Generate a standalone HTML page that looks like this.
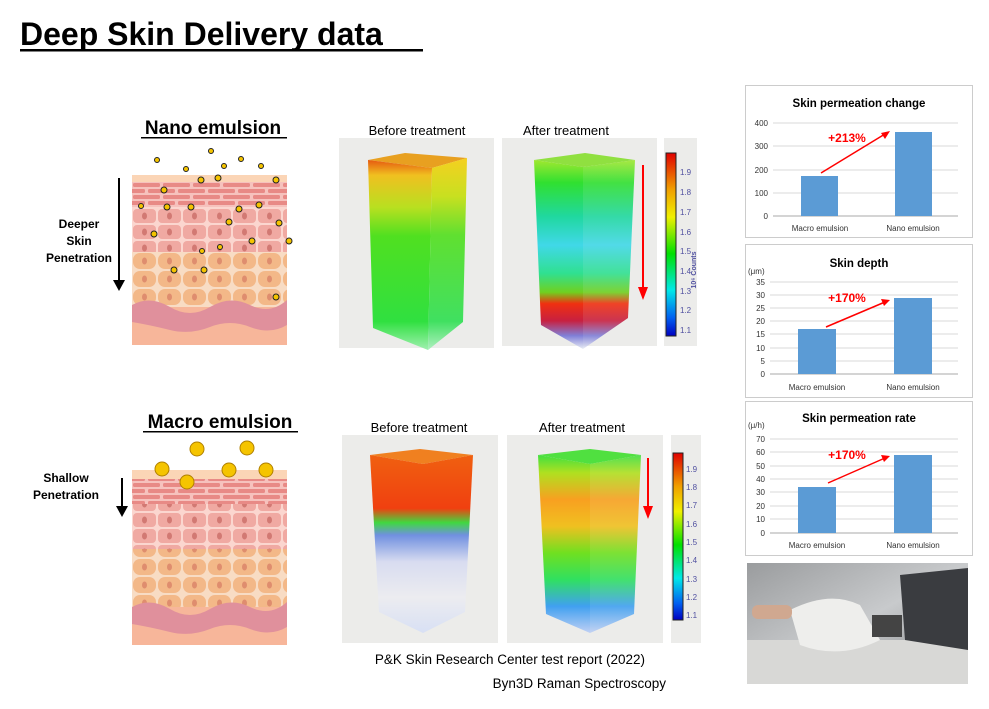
<!DOCTYPE html>
<html><head><meta charset="utf-8"><style>
html,body{margin:0;padding:0;background:#fff}
svg{display:block}
text{font-family:"Liberation Sans",sans-serif}
</style></head><body>
<svg width="989" height="709" viewBox="0 0 989 709" xmlns="http://www.w3.org/2000/svg">
<defs>
 <pattern id="brick" x="132" y="182" width="30" height="12" patternUnits="userSpaceOnUse">
  <rect width="30" height="12" fill="#f6c2bd"/>
  <rect x="1" y="1" width="27" height="4" rx="1.5" fill="#e88a86"/>
  <rect x="-14" y="7" width="27" height="4" rx="1.5" fill="#e88a86"/>
  <rect x="16" y="7" width="27" height="4" rx="1.5" fill="#e88a86"/>
 </pattern>
 <pattern id="pink" x="132" y="0" width="25" height="16" patternUnits="userSpaceOnUse">
  <rect width="25" height="16" fill="#fbd6cf"/>
  <rect x="1" y="1" width="23" height="14" rx="4" fill="#f0a9a2"/>
  <ellipse cx="12.5" cy="8" rx="2.5" ry="3.5" fill="#d27973"/>
 </pattern>
 <pattern id="orange" x="132" y="0" width="25" height="18" patternUnits="userSpaceOnUse">
  <rect width="25" height="18" fill="#f8dcc4"/>
  <rect x="1" y="1" width="23" height="16" rx="7" fill="#f3b888"/>
  <ellipse cx="12.5" cy="9" rx="2.5" ry="3.5" fill="#df8d6e"/>
 </pattern>
 <linearGradient id="nb" x1="0" y1="0" x2="0" y2="1">
  <stop offset="0" stop-color="#e65a10"/><stop offset="0.08" stop-color="#f0c020"/><stop offset="0.25" stop-color="#b8e020"/><stop offset="0.4" stop-color="#50e020"/><stop offset="0.85" stop-color="#30e040"/><stop offset="1" stop-color="#a0f0b0"/>
 </linearGradient>
 <linearGradient id="nbr" x1="0" y1="0" x2="0" y2="1">
  <stop offset="0" stop-color="#f5d020"/><stop offset="0.2" stop-color="#c8e020"/><stop offset="0.4" stop-color="#60e030"/><stop offset="0.85" stop-color="#40e060"/><stop offset="1" stop-color="#b0f0c0"/>
 </linearGradient>
 <linearGradient id="na" x1="0" y1="0" x2="0" y2="1">
  <stop offset="0" stop-color="#a0e830"/><stop offset="0.12" stop-color="#30e030"/><stop offset="0.3" stop-color="#20d8a0"/><stop offset="0.45" stop-color="#40d8e8"/><stop offset="0.6" stop-color="#30e090"/><stop offset="0.7" stop-color="#70d020"/><stop offset="0.76" stop-color="#f03010"/><stop offset="0.85" stop-color="#c82040"/><stop offset="0.93" stop-color="#8080d8"/><stop offset="1" stop-color="#e8ecf4"/>
 </linearGradient>
 <linearGradient id="mb" x1="0" y1="0" x2="0" y2="1">
  <stop offset="0" stop-color="#f06010"/><stop offset="0.3" stop-color="#f04010"/><stop offset="0.38" stop-color="#40d840"/><stop offset="0.45" stop-color="#7090e0"/><stop offset="0.6" stop-color="#d8dcf0"/><stop offset="0.8" stop-color="#ececf0"/><stop offset="1" stop-color="#d8e0f4"/>
 </linearGradient>
 <linearGradient id="ma" x1="0" y1="0" x2="0" y2="1">
  <stop offset="0" stop-color="#40e040"/><stop offset="0.1" stop-color="#b0e020"/><stop offset="0.25" stop-color="#f8a020"/><stop offset="0.4" stop-color="#f0c020"/><stop offset="0.55" stop-color="#70e020"/><stop offset="0.7" stop-color="#30e060"/><stop offset="0.85" stop-color="#40a0f0"/><stop offset="1" stop-color="#c0d0f4"/>
 </linearGradient>
 <linearGradient id="cb" x1="0" y1="0" x2="0" y2="1">
  <stop offset="0" stop-color="#e00000"/><stop offset="0.2" stop-color="#f0a000"/><stop offset="0.35" stop-color="#f0f000"/><stop offset="0.55" stop-color="#00e000"/><stop offset="0.75" stop-color="#00e8e8"/><stop offset="0.9" stop-color="#0060f0"/><stop offset="1" stop-color="#0000c0"/>
 </linearGradient>
 <linearGradient id="photo" x1="0" y1="0" x2="1" y2="1">
  <stop offset="0" stop-color="#9a9c9e"/><stop offset="0.5" stop-color="#c8cacc"/><stop offset="1" stop-color="#7c7e80"/>
 </linearGradient>
</defs>

<text x="20" y="45" font-size="32" font-weight="bold" fill="#000">Deep Skin Delivery data</text>
<rect x="20" y="49" width="403" height="2.5" fill="#000"/>

<!-- Nano -->
<text x="213" y="134" font-size="19" font-weight="bold" text-anchor="middle">Nano emulsion</text>
<rect x="141" y="137" width="146" height="1.5" fill="#000"/>
<g>
 <rect x="132" y="175" width="155" height="170" fill="#f7b69a"/>
 <rect x="132" y="175" width="155" height="7" fill="#fbd5b6"/>
 <rect x="132" y="182" width="155" height="25" fill="url(#brick)"/>
 <rect x="132" y="207" width="155" height="45" fill="url(#pink)"/>
 <rect x="132" y="252" width="155" height="55" fill="url(#orange)"/>
 <path d="M132 305 Q150 295 170 307 T210 307 T250 305 T287 300 L287 325 Q270 335 250 327 T210 327 T170 330 T132 322Z" fill="#e0909c"/>
</g>
<g fill="#f5c400" stroke="#222" stroke-width="1">
 <circle cx="157" cy="160" r="2.5"/><circle cx="211" cy="151" r="2.5"/><circle cx="186" cy="169" r="2.5"/><circle cx="224" cy="166" r="2.5"/><circle cx="241" cy="159" r="2.5"/><circle cx="261" cy="166" r="2.5"/>
 <circle cx="201" cy="180" r="3"/><circle cx="218" cy="178" r="3"/><circle cx="276" cy="180" r="3"/><circle cx="164" cy="190" r="3"/>
 <circle cx="141" cy="206" r="2.5"/><circle cx="167" cy="207" r="3"/><circle cx="191" cy="207" r="3"/><circle cx="239" cy="209" r="3"/><circle cx="259" cy="205" r="3"/>
 <circle cx="229" cy="222" r="3"/><circle cx="279" cy="223" r="3"/><circle cx="154" cy="234" r="3"/><circle cx="252" cy="241" r="3"/><circle cx="289" cy="241" r="3"/>
 <circle cx="202" cy="251" r="2.5"/><circle cx="220" cy="247" r="2.5"/><circle cx="174" cy="270" r="3"/><circle cx="204" cy="270" r="3"/><circle cx="276" cy="297" r="3"/>
</g>
<line x1="119" y1="178" x2="119" y2="282" stroke="#000" stroke-width="2"/>
<polygon points="113,280 125,280 119,291" fill="#000"/>
<g font-size="12" font-weight="bold" text-anchor="middle">
 <text x="79" y="228">Deeper</text><text x="79" y="245">Skin</text><text x="79" y="262">Penetration</text>
</g>

<text x="417" y="135" font-size="13" text-anchor="middle">Before treatment</text>
<text x="566" y="135" font-size="13" text-anchor="middle">After treatment</text>
<rect x="339" y="138" width="155" height="210" fill="#ececea"/>
<rect x="502" y="138" width="155" height="208" fill="#ececea"/>
<rect x="664" y="138" width="33" height="208" fill="#ececea"/>
<!-- nano before cube -->
<polygon points="368,160 405,153 467,158 432,168" fill="#e8a020"/>
<polygon points="368,160 432,168 428,350 373,328" fill="url(#nb)"/>
<polygon points="432,168 467,158 463,322 428,350" fill="url(#nbr)"/>
<!-- nano after cube -->
<polygon points="534,160 585,153 635,160 583,167" fill="#90e040"/>
<polygon points="534,160 583,167 583,349 541,325" fill="url(#na)"/>
<polygon points="583,167 635,160 628,318 583,349" fill="url(#na)" opacity="0.9"/>
<line x1="643" y1="165" x2="643" y2="288" stroke="#f00" stroke-width="2"/>
<polygon points="638,287 648,287 643,300" fill="#f00"/>
<rect x="666" y="153" width="10" height="183" fill="url(#cb)" stroke="#222" stroke-width="1"/>
<g font-size="8" fill="#5050a0">
 <text x="680" y="175">1.9</text><text x="680" y="195">1.8</text><text x="680" y="215">1.7</text><text x="680" y="235">1.6</text><text x="680" y="254">1.5</text><text x="680" y="274">1.4</text><text x="680" y="294">1.3</text><text x="680" y="313">1.2</text><text x="680" y="333">1.1</text>
 <text transform="translate(696,270) rotate(-90)" font-size="7" font-weight="bold" text-anchor="middle">10⁶ Counts</text>
</g>

<!-- Macro -->
<text x="220" y="428" font-size="19" font-weight="bold" text-anchor="middle">Macro emulsion</text>
<rect x="143" y="431" width="155" height="1.5" fill="#000"/>
<g>
 <rect x="132" y="470" width="155" height="175" fill="#f7b69a"/>
 <rect x="132" y="470" width="155" height="9" fill="#fbd5b6"/>
 <rect x="132" y="479" width="155" height="25" fill="url(#brick)"/>
 <rect x="132" y="504" width="155" height="45" fill="url(#pink)"/>
 <rect x="132" y="549" width="155" height="58" fill="url(#orange)"/>
 <path d="M132 607 Q150 597 170 609 T210 609 T250 607 T287 602 L287 627 Q270 637 250 629 T210 629 T170 632 T132 624Z" fill="#e0909c"/>
</g>
<g fill="#f5c400" stroke="#b08000" stroke-width="1">
 <circle cx="197" cy="449" r="7"/><circle cx="247" cy="448" r="7"/><circle cx="162" cy="469" r="7"/><circle cx="229" cy="470" r="7"/><circle cx="266" cy="470" r="7"/><circle cx="187" cy="482" r="7"/>
</g>
<line x1="122" y1="478" x2="122" y2="508" stroke="#000" stroke-width="2"/>
<polygon points="116,506 128,506 122,517" fill="#000"/>
<g font-size="12" font-weight="bold" text-anchor="middle">
 <text x="66" y="482">Shallow</text><text x="66" y="499">Penetration</text>
</g>

<text x="419" y="432" font-size="13" text-anchor="middle">Before treatment</text>
<text x="582" y="432" font-size="13" text-anchor="middle">After treatment</text>
<rect x="342" y="435" width="156" height="208" fill="#ececea"/>
<rect x="507" y="435" width="156" height="208" fill="#ececea"/>
<rect x="671" y="435" width="30" height="208" fill="#ececea"/>
<polygon points="370,455 420,449 473,455 423,464" fill="#f08020"/>
<polygon points="370,455 423,464 423,633 379,612" fill="url(#mb)"/>
<polygon points="423,464 473,455 465,612 423,633" fill="url(#mb)"/>
<polygon points="538,455 590,449 641,455 590,464" fill="#50e040"/>
<polygon points="538,455 590,464 590,633 546,614" fill="url(#ma)"/>
<polygon points="590,464 641,455 634,614 590,633" fill="url(#ma)" opacity="0.9"/>
<line x1="648" y1="458" x2="648" y2="508" stroke="#f00" stroke-width="2"/>
<polygon points="643,506 653,506 648,519" fill="#f00"/>
<rect x="673" y="453" width="10" height="167" fill="url(#cb)" stroke="#222" stroke-width="1"/>
<g font-size="8" fill="#5050a0">
 <text x="686" y="472">1.9</text><text x="686" y="490">1.8</text><text x="686" y="508">1.7</text><text x="686" y="527">1.6</text><text x="686" y="545">1.5</text><text x="686" y="563">1.4</text><text x="686" y="582">1.3</text><text x="686" y="600">1.2</text><text x="686" y="618">1.1</text>
</g>

<text x="510" y="664" font-size="13.5" text-anchor="middle">P&amp;K Skin Research Center test report (2022)</text>
<text x="666" y="688" font-size="13.5" text-anchor="end">Byn3D Raman Spectroscopy</text>

<!-- charts -->
<g font-size="8" fill="#333">
 <rect x="745.5" y="85.5" width="227" height="152" fill="#fff" stroke="#ccc"/>
 <text x="859" y="107" font-size="11.5" font-weight="bold" text-anchor="middle" fill="#000">Skin permeation change</text>
 <g stroke="#d9d9d9"><line x1="773" y1="123" x2="958" y2="123"/><line x1="773" y1="146" x2="958" y2="146"/><line x1="773" y1="170" x2="958" y2="170"/><line x1="773" y1="193" x2="958" y2="193"/><line x1="773" y1="216" x2="958" y2="216" stroke="#aaa"/></g>
 <g text-anchor="end"><text x="768" y="126">400</text><text x="768" y="149">300</text><text x="768" y="173">200</text><text x="768" y="196">100</text><text x="768" y="219">0</text></g>
 <rect x="801" y="176" width="37" height="40" fill="#5b9bd5"/><rect x="895" y="132" width="37" height="84" fill="#5b9bd5"/>
 <text x="820" y="231" text-anchor="middle">Macro emulsion</text><text x="913" y="231" text-anchor="middle">Nano emulsion</text>
 <text x="847" y="142" font-size="12" font-weight="bold" fill="#f00" text-anchor="middle">+213%</text>
 <line x1="821" y1="173" x2="885" y2="134" stroke="#f00" stroke-width="1.5"/><polygon points="890,131 881,133 885,139" fill="#f00"/>

 <rect x="745.5" y="244.5" width="227" height="153" fill="#fff" stroke="#ccc"/>
 <text x="859" y="267" font-size="11.5" font-weight="bold" text-anchor="middle" fill="#000">Skin depth</text>
 <text x="748" y="274">(μm)</text>
 <g stroke="#d9d9d9"><line x1="770" y1="282" x2="958" y2="282"/><line x1="770" y1="295" x2="958" y2="295"/><line x1="770" y1="308" x2="958" y2="308"/><line x1="770" y1="321" x2="958" y2="321"/><line x1="770" y1="334" x2="958" y2="334"/><line x1="770" y1="348" x2="958" y2="348"/><line x1="770" y1="361" x2="958" y2="361"/><line x1="770" y1="374" x2="958" y2="374" stroke="#aaa"/></g>
 <g text-anchor="end"><text x="765" y="285">35</text><text x="765" y="298">30</text><text x="765" y="311">25</text><text x="765" y="324">20</text><text x="765" y="337">15</text><text x="765" y="351">10</text><text x="765" y="364">5</text><text x="765" y="377">0</text></g>
 <rect x="798" y="329" width="38" height="45" fill="#5b9bd5"/><rect x="894" y="298" width="38" height="76" fill="#5b9bd5"/>
 <text x="817" y="390" text-anchor="middle">Macro emulsion</text><text x="913" y="390" text-anchor="middle">Nano emulsion</text>
 <text x="847" y="302" font-size="12" font-weight="bold" fill="#f00" text-anchor="middle">+170%</text>
 <line x1="826" y1="327" x2="885" y2="302" stroke="#f00" stroke-width="1.5"/><polygon points="890,300 881,299 884,306" fill="#f00"/>

 <rect x="745.5" y="401.5" width="227" height="154" fill="#fff" stroke="#ccc"/>
 <text x="859" y="422" font-size="11.5" font-weight="bold" text-anchor="middle" fill="#000">Skin permeation rate</text>
 <text x="748" y="428">(μ/h)</text>
 <g stroke="#d9d9d9"><line x1="770" y1="439" x2="958" y2="439"/><line x1="770" y1="452" x2="958" y2="452"/><line x1="770" y1="466" x2="958" y2="466"/><line x1="770" y1="479" x2="958" y2="479"/><line x1="770" y1="492" x2="958" y2="492"/><line x1="770" y1="506" x2="958" y2="506"/><line x1="770" y1="519" x2="958" y2="519"/><line x1="770" y1="533" x2="958" y2="533" stroke="#aaa"/></g>
 <g text-anchor="end"><text x="765" y="442">70</text><text x="765" y="455">60</text><text x="765" y="469">50</text><text x="765" y="482">40</text><text x="765" y="495">30</text><text x="765" y="509">20</text><text x="765" y="522">10</text><text x="765" y="536">0</text></g>
 <rect x="798" y="487" width="38" height="46" fill="#5b9bd5"/><rect x="894" y="455" width="38" height="78" fill="#5b9bd5"/>
 <text x="817" y="548" text-anchor="middle">Macro emulsion</text><text x="913" y="548" text-anchor="middle">Nano emulsion</text>
 <text x="847" y="459" font-size="12" font-weight="bold" fill="#f00" text-anchor="middle">+170%</text>
 <line x1="828" y1="483" x2="885" y2="458" stroke="#f00" stroke-width="1.5"/><polygon points="890,456 881,455 884,462" fill="#f00"/>
</g>

<!-- photo -->
<rect x="747" y="563" width="221" height="121" fill="url(#photo)"/>
<rect x="747" y="640" width="221" height="44" fill="#d8d8d6"/>
<polygon points="900,575 968,568 968,650 905,640" fill="#3a3c40"/>
<path d="M790 610 Q830 590 860 605 L880 640 Q840 660 800 645Z" fill="#eeeeec"/>
<rect x="872" y="615" width="30" height="22" fill="#444"/>
<rect x="752" y="605" width="40" height="14" rx="6" fill="#d0a890"/>
</svg>
</body></html>
